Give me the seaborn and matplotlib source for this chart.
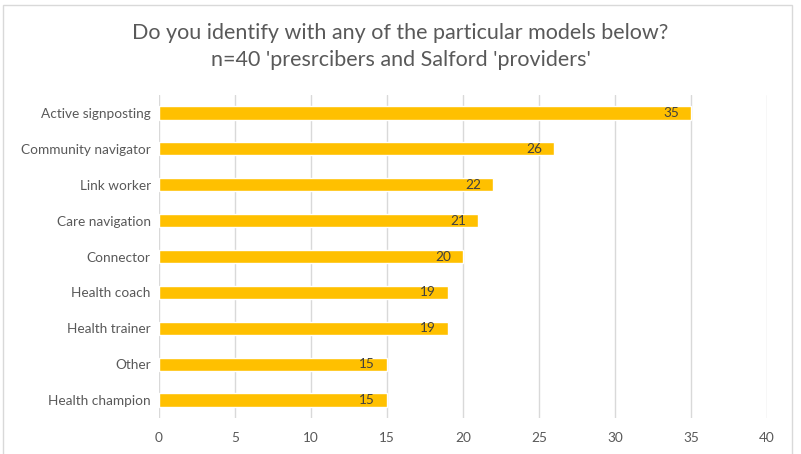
import seaborn as sns
import matplotlib.pyplot as plt
import pandas as pd
from matplotlib.patches import Rectangle

# survey answers, top to bottom as in the chart
models = ['Active signposting', 'Community navigator', 'Link worker', 'Care navigation',
          'Connector', 'Health coach', 'Health trainer', 'Other', 'Health champion']
counts = [35, 26, 22, 21, 20, 19, 19, 15, 15]

df = pd.DataFrame({'model': models, 'count': counts})

sns.set_style('white')
plt.rcParams['font.family'] = ['Lato', 'DejaVu Sans']

fig = plt.figure(figsize=(8.01, 4.54), dpi=100)
ax = fig.add_axes([0.1985, 0.0793, 0.7591, 0.7114])

sns.barplot(data=df, x='count', y='model', color='#FFC000', saturation=1,
            width=0.37, ax=ax)

ax.set_xlim(0, 40)
ax.set_xticks(range(0, 41, 5))
ax.xaxis.grid(True, color='#D9D9D9', linewidth=1)
ax.set_axisbelow(True)
for s in ax.spines.values():
    s.set_visible(False)
ax.tick_params(axis='both', length=0, colors='#595959', labelsize=9.8)
ax.tick_params(axis='x', pad=10)
ax.tick_params(axis='y', pad=6)
ax.set_xlabel('')
ax.set_ylabel('')

for c in ax.containers:
    ax.bar_label(c, padding=-20, color='#404040', fontsize=9.8)

fig.text(0.5, 0.897, "Do you identify with any of the particular models below?\nn=40 'presrcibers and Salford 'providers'",
         ha='center', va='center', fontsize=15.5, color='#595959', linespacing=1.45)

fig.patches.append(Rectangle((0.004, -0.02), 0.985, 1.01, transform=fig.transFigure,
                             fill=False, edgecolor='#D9D9D9', linewidth=1))

fig.savefig('out.png', dpi=100)
